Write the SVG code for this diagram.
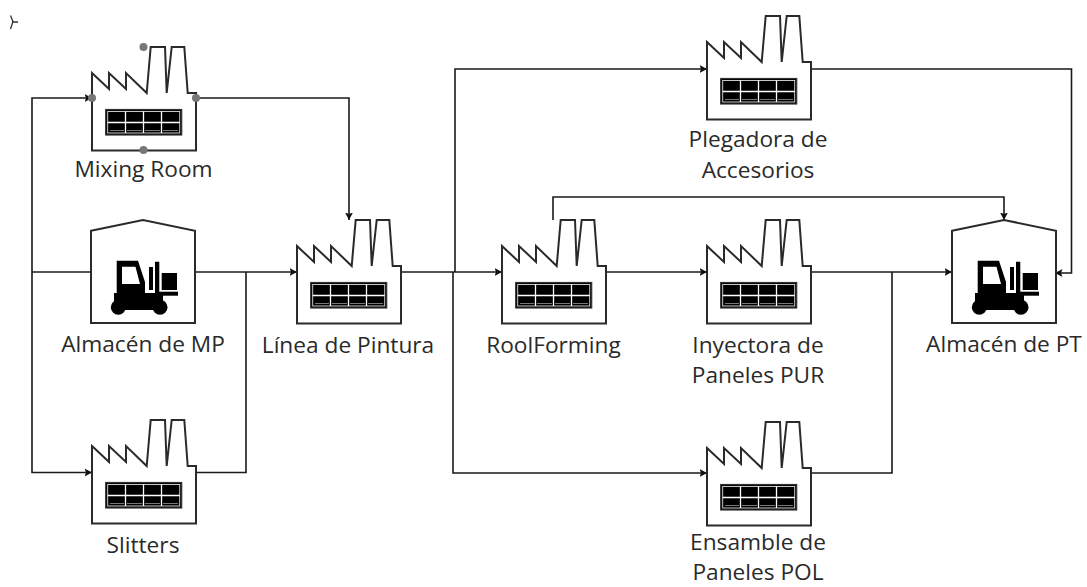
<svg xmlns="http://www.w3.org/2000/svg" width="1087" height="587" viewBox="0 0 1087 587">
<style>
.lbl{font-family:"Open Sans","Noto Sans","Liberation Sans",sans-serif;font-size:22.7px;fill:#2a2a2a;text-anchor:middle}
.ln{fill:none;stroke:#1a1a1a;stroke-width:1.6}
.bd{fill:#fff;stroke:#2a2a2a;stroke-width:2;stroke-linejoin:miter}
.dot{fill:#777}
</style>
<defs>
<marker id="a" markerUnits="userSpaceOnUse" markerWidth="9" markerHeight="10" refX="7.500" refY="5" orient="auto"><path d="M0 1L7.500 5L0 9L1.500 5z" fill="#111"/></marker>
<g id="factory">
<path class="bd" d="M0 26L17 42V26L34 42V26L54.700 46L58.700 0H73L74.700 46L79.700 0H92.300L95.700 46H104V103.500H0z"/>
<rect x="13.700" y="62.500" width="76" height="25.500" fill="#000" stroke="#333" stroke-width="1.200"/>
<rect x="15.700" y="64.500" width="72" height="21.500" fill="none" stroke="#ddd" stroke-width="0.900"/>
<path d="M15.700 75.500H87.700M33.500 64.500V86M51.500 64.500V86M69.500 64.500V86" stroke="#fff" stroke-width="1.300" fill="none"/>
<path d="M18 83.500H32M35 83.500H50M53 83.500H68M71 83.500H86" stroke="#777" stroke-width="1" fill="none"/>
</g>
<g id="store">
<path class="bd" d="M0 10.700L52 0L104 10.700V103H0z"/>
<path d="M25.700 40.700H47L54 62V73H25.700zM31 46.700V64H49L44.500 46.700z" fill="#000" fill-rule="evenodd"/>
<path d="M58 47H62V70H58zM64 41.700H68.300V75.700H64z" fill="#000"/>
<rect x="70.700" y="53" width="15.300" height="17" fill="#000"/>
<rect x="68" y="71.700" width="19" height="4" fill="#000"/>
<path d="M23 73H72V90H23z" fill="#000"/>
<circle cx="27.300" cy="87.300" r="7.500" fill="#000"/>
<circle cx="69" cy="87.300" r="7.500" fill="#000"/>
</g>
</defs>
<path d="M18 22H12M10.500 15.500L13 21.500L10.500 29" fill="none" stroke="#333" stroke-width="1.300"/>
<g id="connectors">
<path class="ln" marker-end="url(#a)" d="M32 272V98H92"/>
<path class="ln" marker-end="url(#a)" d="M32 272V472.500H92"/>
<path class="ln" d="M32 272H91"/>
<path class="ln" marker-end="url(#a)" d="M195 272H297"/>
<path class="ln" d="M196 472.500H246V272"/>
<path class="ln" marker-end="url(#a)" d="M196 98H349V220"/>
<path class="ln" marker-end="url(#a)" d="M401 272H502"/>
<path class="ln" marker-end="url(#a)" d="M455 272V69H707"/>
<path class="ln" marker-end="url(#a)" d="M453 272V473H707"/>
<path class="ln" marker-end="url(#a)" d="M606 272H707"/>
<path class="ln" marker-end="url(#a)" d="M811 272H952"/>
<path class="ln" d="M811 473H892V272"/>
<path class="ln" marker-end="url(#a)" d="M811 69H1071.500V273H1055"/>
<path class="ln" marker-end="url(#a)" d="M553 220V197H1004V220"/>
</g>
<g id="mixing-room"><use href="#factory" x="92" y="47"/>
<circle class="dot" cx="92" cy="98" r="4"/><circle class="dot" cx="196" cy="98" r="4"/><circle class="dot" cx="143.500" cy="47" r="4"/><circle class="dot" cx="143.500" cy="150" r="4"/>
<text class="lbl" x="143.500" y="177">Mixing Room</text></g>
<g id="almacen-mp"><use href="#store" x="91" y="220"/><text class="lbl" x="143" y="352">Almacén de MP</text></g>
<g id="slitters"><use href="#factory" x="92" y="420"/><text class="lbl" x="143" y="553">Slitters</text></g>
<g id="linea-pintura"><use href="#factory" x="297" y="220"/><text class="lbl" x="348" y="352.500">Línea de Pintura</text></g>
<g id="roolforming"><use href="#factory" x="502" y="220"/><text class="lbl" x="553.500" y="352.500">RoolForming</text></g>
<g id="plegadora"><use href="#factory" x="707" y="16"/><text class="lbl" x="758" y="147">Plegadora de</text><text class="lbl" x="758" y="178">Accesorios</text></g>
<g id="inyectora"><use href="#factory" x="707" y="220"/><text class="lbl" x="758" y="352.500">Inyectora de</text><text class="lbl" x="758" y="383">Paneles PUR</text></g>
<g id="ensamble"><use href="#factory" x="707" y="422"/><text class="lbl" x="758" y="549.500">Ensamble de</text><text class="lbl" x="758" y="580">Paneles POL</text></g>
<g id="almacen-pt"><use href="#store" x="952" y="220"/><text class="lbl" x="1004" y="352">Almacén de PT</text></g>
</svg>
